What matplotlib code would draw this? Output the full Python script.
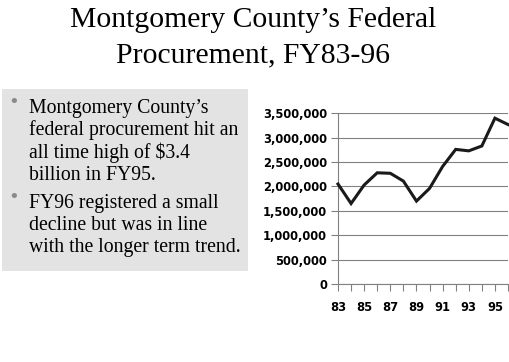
import matplotlib
matplotlib.use('Agg')
import matplotlib.pyplot as plt
from matplotlib.patches import Rectangle
from matplotlib.ticker import FuncFormatter, MultipleLocator

# data (federal procurement, thousands of dollars)
years = [83, 84, 85, 86, 87, 88, 89, 90, 91, 92, 93, 94, 95, 96]
procurement = [2050000, 1650000, 2030000, 2280000, 2270000, 2110000, 1700000,
               1960000, 2410000, 2760000, 2730000, 2830000, 3400000, 3270000]
xtick_labels = ['83', '85', '87', '89', '91', '93', '95']

title_lines = ["Montgomery County\u2019s Federal", "Procurement, FY83-96"]
bullets = [
    ["Montgomery County\u2019s", "federal procurement hit an",
     "all time high of $3.4", "billion in FY95."],
    ["FY96 registered a small", "decline but was in line",
     "with the longer term trend."],
]

W, H = 510, 362
fig = plt.figure(figsize=(W / 100, H / 100), dpi=100)
fig.patch.set_facecolor('white')

serif = ['Liberation Serif', 'DejaVu Serif']

# title
for i, line in enumerate(title_lines):
    fig.text(253 / W, 1 - (27 + 35 * i) / H, line, ha='center', va='baseline',
             fontsize=21.3, family=serif, color='black')

# gray text box
fig.patches.append(Rectangle((2 / W, 1 - 271 / H), 246 / W, 182 / H,
                             transform=fig.transFigure, facecolor='#e3e3e3',
                             edgecolor='none', zorder=0))

y = 113
for b in bullets:
    fig.text(14 / W, 1 - (y - 11) / H, '\u2022', ha='center', va='center',
             fontsize=13, color='#8a8a8a', family='DejaVu Sans')
    for line in b:
        fig.text(29 / W, 1 - y / H, line, ha='left', va='baseline',
                 fontsize=14.2, family=serif, color='black')
        y += 22.3
    y += 5.5

# line chart
ax = fig.add_axes([338 / W, 1 - 284 / H, 170 / W, (284 - 113.3) / H])
ax.plot(years, procurement, color='#1a1a1a', lw=2.2, solid_joinstyle='miter',
        clip_on=False, zorder=3)
ax.set_xlim(83, 96)
ax.set_ylim(0, 3500000)
ax.yaxis.set_major_locator(MultipleLocator(500000))
ax.yaxis.set_major_formatter(FuncFormatter(lambda v, p: f'{int(v):,}'))
ax.set_xticks(years)
ax.set_xticklabels([str(yr) if str(yr) in xtick_labels else '' for yr in years])
ax.grid(axis='y', color='#808080', lw=0.8)
ax.set_axisbelow(True)
for s in ['top', 'right']:
    ax.spines[s].set_visible(False)
for s in ['left', 'bottom']:
    ax.spines[s].set_color('#808080')
    ax.spines[s].set_linewidth(0.8)
ax.tick_params(axis='both', color='#808080', length=5, width=0.8,
               labelsize=8.3, direction='out')
ax.tick_params(axis='y', pad=3)
ax.tick_params(axis='x', pad=7)
for lbl in ax.get_xticklabels() + ax.get_yticklabels():
    lbl.set_fontweight('bold')

fig.savefig('out.png', dpi=100)
